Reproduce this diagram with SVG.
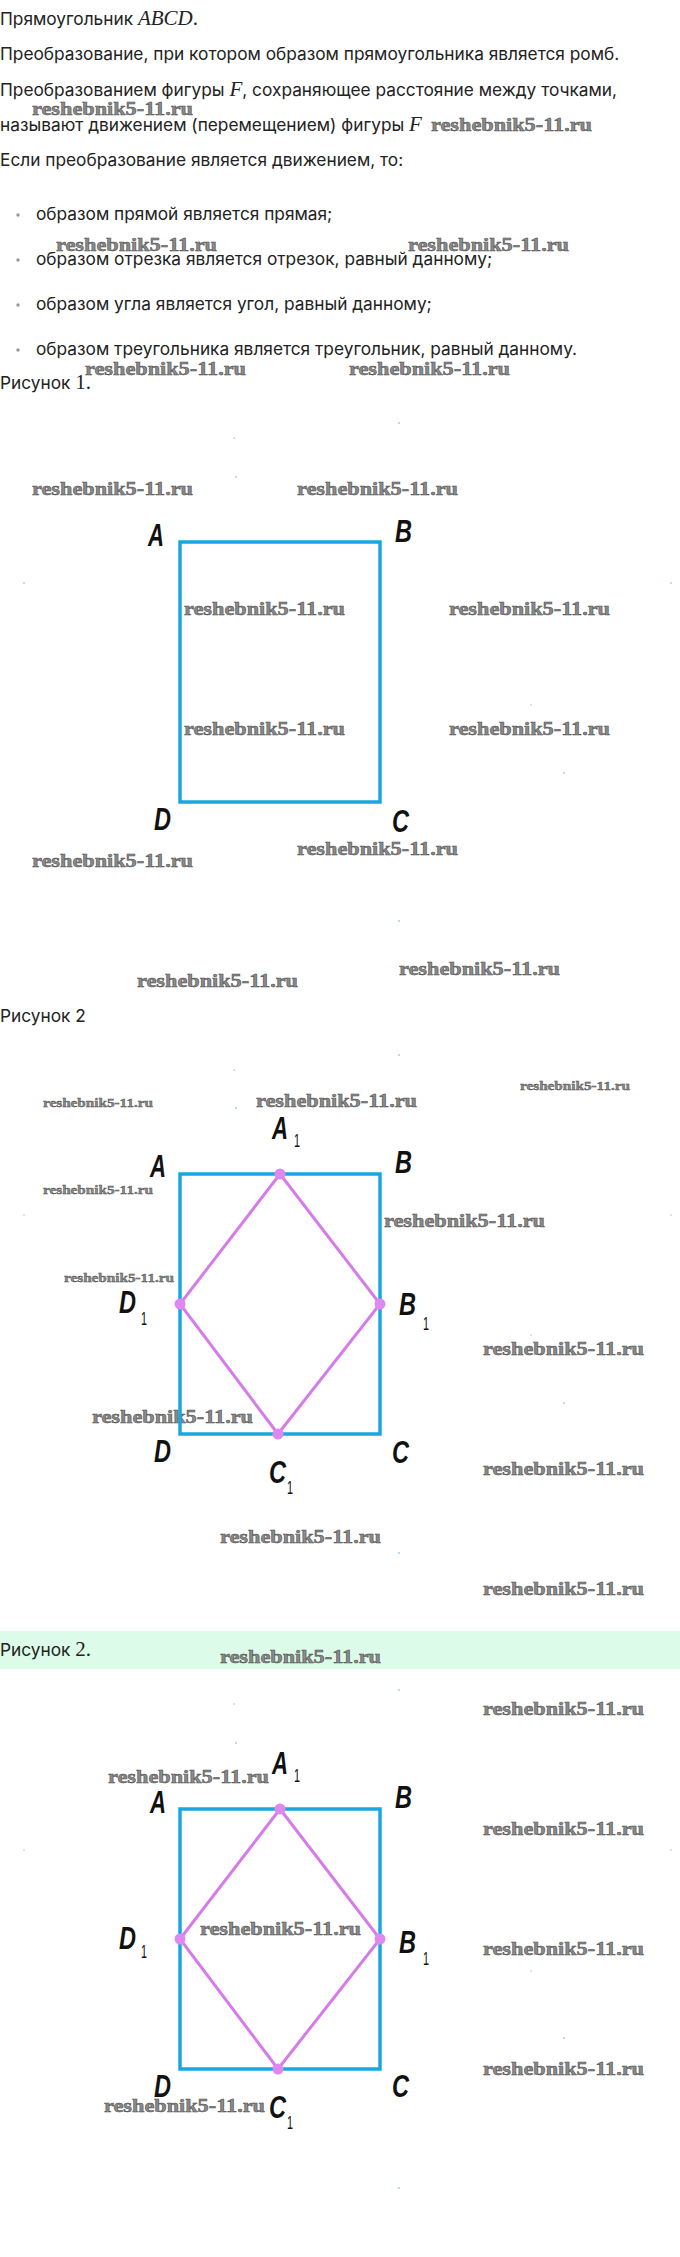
<svg xmlns="http://www.w3.org/2000/svg" width="680" height="2257" viewBox="0 0 680 2257">
<style>
.t{font-family:Inter,"Noto Sans",sans-serif;font-size:17.3px;fill:#222}
.m{font-family:"Liberation Serif",serif;font-style:italic;font-size:21px}
.mr{font-family:"Liberation Serif",serif;font-size:21px}
.wm{font-family:"Liberation Serif",serif;font-weight:bold;font-size:19px;fill:#8a8a8a;stroke:#4a4a4a;stroke-width:0.5}
.ws{font-family:"Liberation Serif",serif;font-weight:bold;font-size:13px;fill:#8a8a8a;stroke:#4a4a4a;stroke-width:0.4}
.lb{font-family:"Liberation Sans",Arial,sans-serif;font-style:italic;font-weight:bold;font-size:31px;fill:#111}
.sb{font-family:"Liberation Sans",Arial,sans-serif;font-size:19px;fill:#111}
.sq{fill:none;stroke:#1aa6e0;stroke-width:3.5}
.rh{fill:none;stroke:#d57ce9;stroke-width:3}
.pt{fill:#df88ef}
.bu{fill:#999}
.dc{fill:#8fd8ee}
.dg{fill:#bbb}
.dp{fill:#f0b8c8}
</style>
<defs>
<text id="w" class="wm" textLength="161" lengthAdjust="spacingAndGlyphs">reshebnik5-11.ru</text>
<text id="s" class="ws" textLength="110" lengthAdjust="spacingAndGlyphs">reshebnik5-11.ru</text>
</defs>
<g id="text">
<text class="t" x="0" y="25">Прямоугольник <tspan class="m">ABCD</tspan><tspan class="mr">.</tspan></text>
<text class="t" x="0" y="60">Преобразование, при котором образом прямоугольника является ромб.</text>
<text class="t" x="0" y="96">Преобразованием фигуры <tspan class="m">F</tspan>, сохраняющее расстояние между точками,</text>
<text class="t" x="0" y="131">называют движением (перемещением) фигуры <tspan class="m">F</tspan></text>
<text class="t" x="0" y="166">Если преобразование является движением, то:</text>
<circle class="bu" cx="18" cy="215" r="1.7"/>
<text class="t" x="36" y="220">образом прямой является прямая;</text>
<circle class="bu" cx="18" cy="260" r="1.7"/>
<text class="t" x="36" y="265">образом отрезка является отрезок, равный данному;</text>
<circle class="bu" cx="18" cy="305" r="1.7"/>
<text class="t" x="36" y="310">образом угла является угол, равный данному;</text>
<circle class="bu" cx="18" cy="350" r="1.7"/>
<text class="t" x="36" y="355">образом треугольника является треугольник, равный данному.</text>
<text class="t" x="0" y="389">Рисунок <tspan class="mr">1.</tspan></text>
<text class="t" x="0" y="1022">Рисунок 2</text>
<rect x="0" y="1631" width="680" height="38" fill="#dcfbe9"/>
<text class="t" x="0" y="1656">Рисунок <tspan class="mr">2.</tspan></text>
</g>
<g id="watermarks">
<use href="#w" x="32" y="115"/><use href="#w" x="431" y="131"/>
<use href="#w" x="56" y="251"/><use href="#w" x="408" y="251"/>
<use href="#w" x="85" y="375"/><use href="#w" x="349" y="375"/>
<use href="#w" x="32" y="495"/><use href="#w" x="297" y="495"/>
<use href="#w" x="184" y="615"/><use href="#w" x="449" y="615"/>
<use href="#w" x="184" y="735"/><use href="#w" x="449" y="735"/>
<use href="#w" x="297" y="855"/><use href="#w" x="32" y="867"/>
<use href="#w" x="137" y="987"/><use href="#w" x="399" y="975"/>
<use href="#s" x="43" y="1107"/><use href="#s" x="520" y="1090"/>
<use href="#s" x="43" y="1194"/><use href="#s" x="64" y="1282"/>
<use href="#w" x="256" y="1107"/><use href="#w" x="384" y="1227"/>
<use href="#w" x="483" y="1355"/><use href="#w" x="92" y="1423"/>
<use href="#w" x="483" y="1475"/><use href="#w" x="220" y="1543"/>
<use href="#w" x="483" y="1595"/>
<use href="#w" x="220" y="1663"/>
<use href="#w" x="483" y="1715"/><use href="#w" x="108" y="1783"/>
<use href="#w" x="483" y="1835"/><use href="#w" x="200" y="1935"/>
<use href="#w" x="483" y="1955"/><use href="#w" x="483" y="2075"/>
<use href="#w" x="104" y="2112"/>
</g>
<g id="specks">
<circle class="dc" cx="399" cy="423" r="1"/><circle class="dg" cx="234" cy="438" r="0.8"/><circle class="dc" cx="236" cy="477" r="1"/><circle class="dp" cx="24" cy="583" r="1"/><circle class="dp" cx="671" cy="583" r="1"/><circle class="dg" cx="531" cy="705" r="0.8"/><circle class="dc" cx="564" cy="773" r="1"/><circle class="dc" cx="399" cy="921" r="1"/>
<circle class="dc" cx="399" cy="1055" r="1"/><circle class="dg" cx="234" cy="1070" r="0.8"/><circle class="dc" cx="236" cy="1108" r="1"/><circle class="dg" cx="24" cy="1215" r="0.8"/><circle class="dg" cx="671" cy="1215" r="0.8"/><circle class="dg" cx="531" cy="1335" r="0.8"/><circle class="dc" cx="564" cy="1403" r="1"/><circle class="dc" cx="399" cy="1553" r="1"/>
<circle class="dc" cx="399" cy="1690" r="1"/><circle class="dg" cx="234" cy="1704" r="0.8"/><circle class="dc" cx="236" cy="1743" r="1"/><circle class="dg" cx="24" cy="1850" r="0.8"/><circle class="dg" cx="671" cy="1850" r="0.8"/><circle class="dg" cx="531" cy="1971" r="0.8"/><circle class="dc" cx="564" cy="2038" r="1"/><circle class="dc" cx="399" cy="2188" r="1"/>
</g>
<g id="figure1">
<rect class="sq" x="180" y="542" width="200" height="260"/>
<g id="f1-A"><text class="lb" x="148" y="546" textLength="16" lengthAdjust="spacingAndGlyphs">A</text></g>
<g id="f1-B"><text class="lb" x="395" y="542" textLength="17" lengthAdjust="spacingAndGlyphs">B</text></g>
<g id="f1-D"><text class="lb" x="154" y="830" textLength="17" lengthAdjust="spacingAndGlyphs">D</text></g>
<g id="f1-C"><text class="lb" x="392" y="832" textLength="17" lengthAdjust="spacingAndGlyphs">C</text></g>
</g>
<g id="figure2">
<rect class="sq" x="180" y="1174" width="200" height="260"/>
<g id="f2-connectors"><polygon class="rh" points="280,1174 380,1304 278,1434 180,1304"/></g>
<circle class="pt" cx="280" cy="1174" r="5.5"/><circle class="pt" cx="380" cy="1304" r="5.5"/><circle class="pt" cx="278" cy="1434" r="5.5"/><circle class="pt" cx="180" cy="1304" r="5.5"/>
<g id="f2-A1"><text class="lb" x="272" y="1139" textLength="16" lengthAdjust="spacingAndGlyphs">A</text><text class="sb" x="294" y="1147" textLength="6" lengthAdjust="spacingAndGlyphs">1</text></g>
<g id="f2-A"><text class="lb" x="150" y="1177" textLength="16" lengthAdjust="spacingAndGlyphs">A</text></g>
<g id="f2-B"><text class="lb" x="395" y="1173" textLength="17" lengthAdjust="spacingAndGlyphs">B</text></g>
<g id="f2-D1"><text class="lb" x="119" y="1313" textLength="17" lengthAdjust="spacingAndGlyphs">D</text><text class="sb" x="141" y="1325" textLength="6" lengthAdjust="spacingAndGlyphs">1</text></g>
<g id="f2-B1"><text class="lb" x="399" y="1315" textLength="17" lengthAdjust="spacingAndGlyphs">B</text><text class="sb" x="423" y="1330" textLength="6" lengthAdjust="spacingAndGlyphs">1</text></g>
<g id="f2-D"><text class="lb" x="154" y="1462" textLength="17" lengthAdjust="spacingAndGlyphs">D</text></g>
<g id="f2-C"><text class="lb" x="392" y="1463" textLength="17" lengthAdjust="spacingAndGlyphs">C</text></g>
<g id="f2-C1"><text class="lb" x="269" y="1483" textLength="17" lengthAdjust="spacingAndGlyphs">C</text><text class="sb" x="287" y="1494" textLength="6" lengthAdjust="spacingAndGlyphs">1</text></g>
</g>
<g id="figure3">
<rect class="sq" x="180" y="1809" width="200" height="260"/>
<g id="f3-connectors"><polygon class="rh" points="280,1809 380,1939 278,2069 180,1939"/></g>
<circle class="pt" cx="280" cy="1809" r="5.5"/><circle class="pt" cx="380" cy="1939" r="5.5"/><circle class="pt" cx="278" cy="2069" r="5.5"/><circle class="pt" cx="180" cy="1939" r="5.5"/>
<g id="f3-A1"><text class="lb" x="272" y="1774" textLength="16" lengthAdjust="spacingAndGlyphs">A</text><text class="sb" x="294" y="1782" textLength="6" lengthAdjust="spacingAndGlyphs">1</text></g>
<g id="f3-A"><text class="lb" x="150" y="1813" textLength="16" lengthAdjust="spacingAndGlyphs">A</text></g>
<g id="f3-B"><text class="lb" x="395" y="1808" textLength="17" lengthAdjust="spacingAndGlyphs">B</text></g>
<g id="f3-D1"><text class="lb" x="119" y="1949" textLength="17" lengthAdjust="spacingAndGlyphs">D</text><text class="sb" x="141" y="1958" textLength="6" lengthAdjust="spacingAndGlyphs">1</text></g>
<g id="f3-B1"><text class="lb" x="399" y="1953" textLength="17" lengthAdjust="spacingAndGlyphs">B</text><text class="sb" x="423" y="1965" textLength="6" lengthAdjust="spacingAndGlyphs">1</text></g>
<g id="f3-D"><text class="lb" x="154" y="2097" textLength="17" lengthAdjust="spacingAndGlyphs">D</text></g>
<g id="f3-C"><text class="lb" x="392" y="2097" textLength="17" lengthAdjust="spacingAndGlyphs">C</text></g>
<g id="f3-C1"><text class="lb" x="269" y="2118" textLength="17" lengthAdjust="spacingAndGlyphs">C</text><text class="sb" x="287" y="2129" textLength="6" lengthAdjust="spacingAndGlyphs">1</text></g>
</g>
</svg>
